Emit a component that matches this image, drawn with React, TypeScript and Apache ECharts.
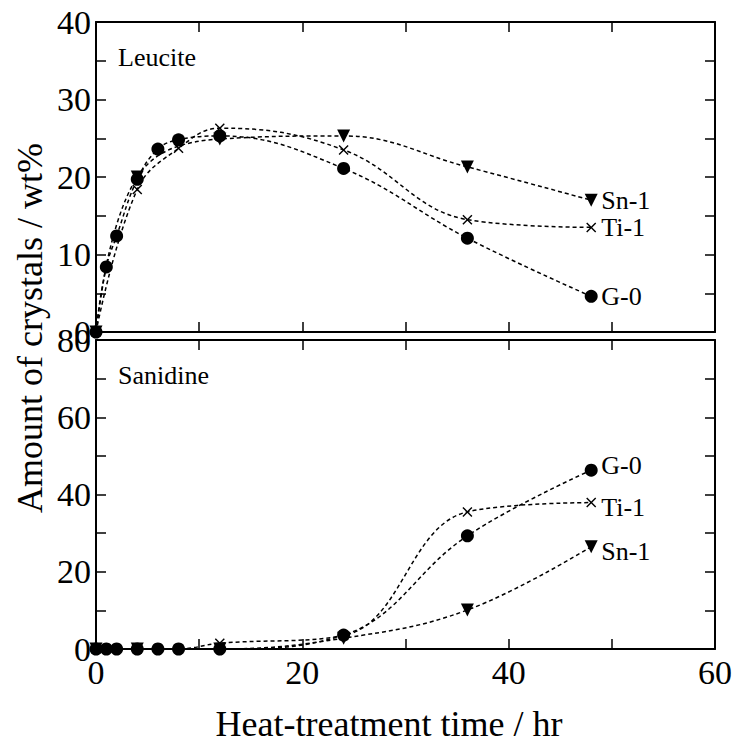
import React, { useEffect, useRef } from "react";
import * as echarts from "echarts";

const FONT = '"Liberation Serif", "Times New Roman", serif';

// Leucite panel (top)
const leuG0Time = [0, 1, 2, 4, 6, 8, 12, 24, 36, 48];
const leuG0Val = [0, 8.4, 12.4, 19.7, 23.6, 24.8, 25.3, 21.1, 12.1, 4.6];
const leuTi1Time = [0, 4, 8, 12, 24, 36, 48];
const leuTi1Val = [0, 18.4, 23.7, 26.3, 23.5, 14.5, 13.5];
const leuSn1Time = [0, 4, 12, 24, 36, 48];
const leuSn1Val = [0, 20.0, 24.9, 25.3, 21.3, 17.0];

// Sanidine panel (bottom)
const sanG0Time = [0, 1, 2, 4, 6, 8, 12, 24, 36, 48];
const sanG0Val = [0, 0, 0, 0, 0, 0, 0, 3.6, 29.3, 46.3];
const sanTi1Time = [0, 4, 8, 12, 24, 36, 48];
const sanTi1Val = [0, 0, 0, 1.5, 3.5, 35.5, 37.9];
const sanSn1Time = [0, 4, 12, 24, 36, 48];
const sanSn1Val = [0, 0, 0, 2.8, 10.1, 26.5];

const CROSS =
  "path://M0,1 L1,0 L5,4 L9,0 L10,1 L6,5 L10,9 L9,10 L5,6 L1,10 L0,9 L4,5 Z";

function pairs(t: number[], v: number[]) {
  return t.map((x, i) => [x, v[i]]);
}

export default function App() {
  const ref = useRef<HTMLDivElement>(null);
  useEffect(() => {
    if (!ref.current) return;
    const chart = echarts.init(ref.current, null, { renderer: "svg" });
    const axisLine = { show: true, onZero: false, lineStyle: { color: "#000", width: 2 } };
    const tick = { show: true, inside: true, length: 10, lineStyle: { color: "#000", width: 1.5 } };
    const mkX = (gridIndex: number, position: string, showLabel: boolean) => ({
      type: "value",
      gridIndex,
      position,
      min: 0,
      max: 60,
      interval: 10,
      axisLine,
      axisTick: tick,
      splitLine: { show: false },
      axisLabel: {
        show: showLabel,
        color: "#000",
        fontFamily: FONT,
        fontSize: 34,
        margin: 6,
        formatter: (v: number) => (v % 20 === 0 ? String(v) : ""),
      },
    });
    const mkY = (gridIndex: number, position: string, max: number, interval: number, showLabel: boolean) => ({
      type: "value",
      gridIndex,
      position,
      min: 0,
      max,
      interval,
      axisLine,
      axisTick: tick,
      splitLine: { show: false },
      axisLabel: {
        show: showLabel,
        color: "#000",
        fontFamily: FONT,
        fontSize: 34,
        margin: 5,
        formatter: (v: number) => (v % (interval * 2) === 0 ? String(v) : ""),
      },
    });
    const line = (
      name: string,
      data: number[][],
      xi: number,
      yi: number,
      symbol: string,
      size: number,
      rotate: number,
      offY: number
    ) => ({
      type: "line",
      name,
      data,
      xAxisIndex: xi,
      yAxisIndex: yi,
      smooth: 0.4,
      clip: false,
      symbol,
      symbolSize: size,
      symbolRotate: rotate,
      showAllSymbol: true,
      itemStyle: { color: "#000" },
      lineStyle: { color: "#000", width: 1.5, type: [4, 3] },
      endLabel: {
        show: true,
        formatter: name,
        color: "#000",
        fontFamily: FONT,
        fontSize: 26,
        distance: 10,
        offset: [0, offY],
      },
      z: 3,
    });
    chart.setOption({
      animation: false,
      grid: [
        { left: 96, top: 22, width: 619, height: 310 },
        { left: 96, top: 340, width: 619, height: 309 },
      ],
      xAxis: [mkX(0, "bottom", false), mkX(0, "top", false), mkX(1, "bottom", true), mkX(1, "top", false)],
      yAxis: [
        mkY(0, "left", 40, 5, true),
        mkY(0, "right", 40, 5, false),
        mkY(1, "left", 80, 10, true),
        mkY(1, "right", 80, 10, false),
      ],
      series: [
        line("G-0", pairs(leuG0Time, leuG0Val), 0, 0, "circle", 13, 0, 0),
        line("Ti-1", pairs(leuTi1Time, leuTi1Val), 0, 0, CROSS, 10, 0, 0),
        line("Sn-1", pairs(leuSn1Time, leuSn1Val), 0, 0, "triangle", 13, 180, 0),
        line("G-0", pairs(sanG0Time, sanG0Val), 2, 2, "circle", 13, 0, -5),
        line("Ti-1", pairs(sanTi1Time, sanTi1Val), 2, 2, CROSS, 10, 0, 5),
        line("Sn-1", pairs(sanSn1Time, sanSn1Val), 2, 2, "triangle", 13, 180, 5),
      ],
      graphic: [
        {
          type: "text",
          left: 118,
          top: 44,
          style: { text: "Leucite", fill: "#000", font: `26px ${FONT}` },
        },
        {
          type: "text",
          left: 118,
          top: 362,
          style: { text: "Sanidine", fill: "#000", font: `26px ${FONT}` },
        },
        {
          type: "text",
          x: 389,
          y: 724,
          style: {
            text: "Heat-treatment time / hr",
            fill: "#000",
            font: `36px ${FONT}`,
            align: "center",
            verticalAlign: "middle",
          },
        },
        {
          type: "text",
          x: 30,
          y: 328,
          rotation: Math.PI / 2,
          style: {
            text: "Amount of crystals / wt%",
            fill: "#000",
            font: `36px ${FONT}`,
            align: "center",
            verticalAlign: "middle",
          },
        },
      ],
    });
    return () => chart.dispose();
  }, []);
  return <div ref={ref} style={{ width: 736, height: 744, position: "absolute", left: 0, top: 0 }} />;
}
